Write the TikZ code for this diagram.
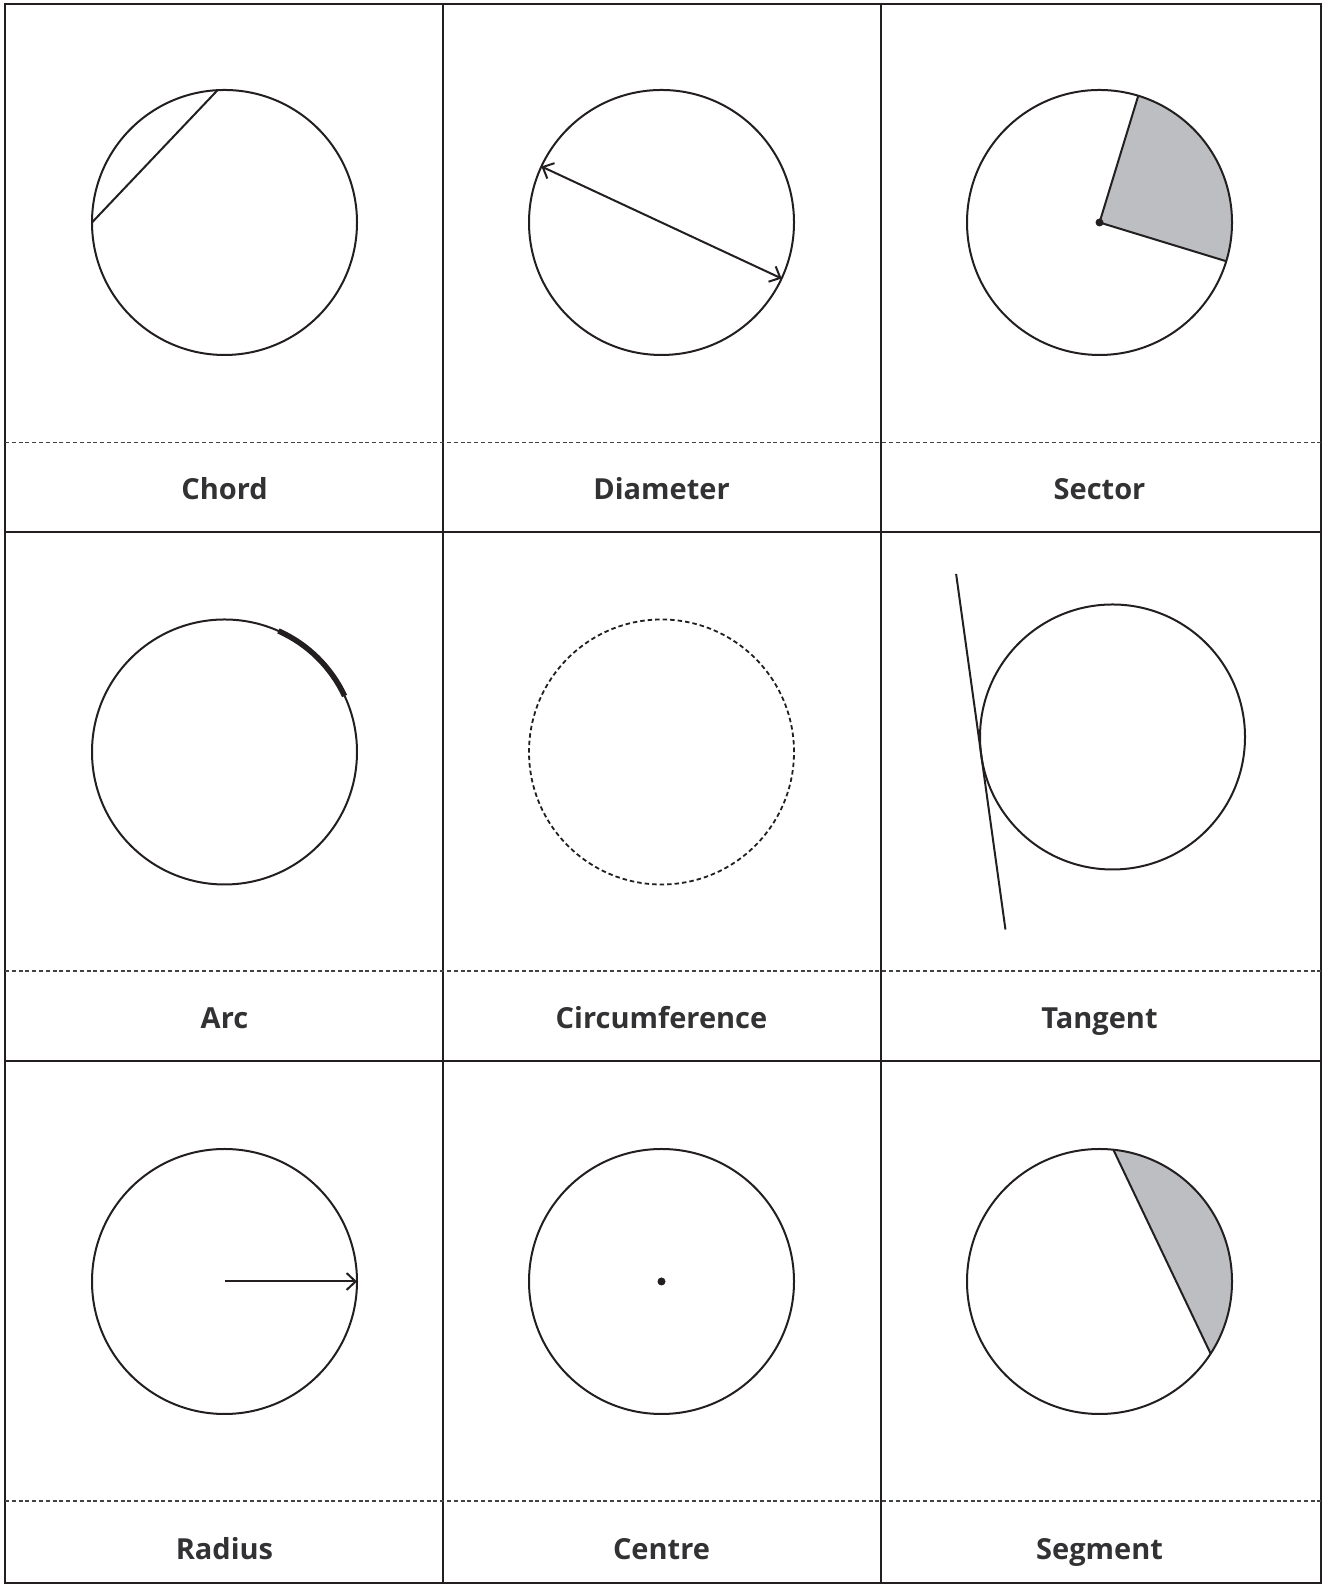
\documentclass[tikz,border=0pt]{standalone}
\usepackage{fontspec}
\setmainfont{Open Sans}
\usepackage{tikz}
\usetikzlibrary{arrows.meta,calc}
\definecolor{inkMain}{RGB}{35,31,32}
\definecolor{greyFill}{RGB}{189,190,193}
\definecolor{textDark}{RGB}{50,50,52}

\begin{document}
\begin{tikzpicture}[
		x=1pt, y=1pt,
		frame/.style={draw=inkMain, line width=2.4pt},
		sep/.style={draw=inkMain!85, line width=1.1pt, dash pattern=on 4pt off 2.8pt},
		circ/.style={draw=inkMain, line width=2pt},
		lbl/.style={font=\bfseries\fontsize{29}{34}\selectfont, text=textDark, anchor=base},
		tip/.style={-{Straight Barb[length=9pt,width=17pt]}},
		dot/.style={circle, fill=inkMain, inner sep=0pt, minimum size=8pt},
		]
		\useasboundingbox (0,0) rectangle (1329,1586);
		
		% grid
		\draw[frame] (5,3) rectangle (1321,1582);
		\draw[frame] (443,3) -- (443,1582);
		\draw[frame] (881,3) -- (881,1582);
		\draw[frame] (5,1054) -- (1321,1054);
		\draw[frame] (5,525) -- (1321,525);
		\draw[sep] (5,1143.5) -- (1321,1143.5);
		\draw[sep] (5,615) -- (1321,615);
		\draw[sep] (5,85) -- (1321,85);
		
		% centres
		\coordinate (c1) at (224.5,1363.5);
		\coordinate (c2) at (661.5,1363.5);
		\coordinate (c3) at (1099.5,1363.5);
		\coordinate (c4) at (224.5,834);
		\coordinate (c5) at (661.5,834);
		\coordinate (c6) at (1112.5,849);
		\coordinate (c7) at (224.5,304.5);
		\coordinate (c8) at (661.5,304.5);
		\coordinate (c9) at (1099.5,304.5);
		
		% chord
		\draw[circ] (c1) circle[radius=132.5pt];
		\coordinate (chA) at ($(c1)+(93:132.5pt)$);
		\coordinate (chB) at ($(c1)+(180:132.5pt)$);
		\draw[circ] (chA) -- (chB);
		
		% diameter
		\draw[circ] (c2) circle[radius=132.5pt];
		\coordinate (diA) at ($(c2)+(155:132.5pt)$);
		\coordinate (diB) at ($(c2)+(335:132.5pt)$);
		\draw[circ, {Straight Barb[length=9pt,width=17pt]}-{Straight Barb[length=9pt,width=17pt]}] (diA) -- (diB);
		
		% sector
		\coordinate (seA) at ($(c3)+(-17:132.5pt)$);
		\coordinate (seB) at ($(c3)+(73:132.5pt)$);
		\fill[greyFill] (c3) -- (seA) arc[start angle=-17, end angle=73, radius=132.5pt] -- cycle;
		\draw[circ] (c3) circle[radius=132.5pt];
		\draw[circ, line join=round] (seA) -- (c3) -- (seB);
		\node[dot] (seO) at (c3) {};
		
		% arc
		\draw[circ] (c4) circle[radius=132.5pt];
		\coordinate (arA) at ($(c4)+(25:132.5pt)$);
		\draw[draw=inkMain, line width=5.5pt] (arA) arc[start angle=25, end angle=66, radius=132.5pt];
		
		% circumference
		\draw[circ, line width=1.8pt, dash pattern=on 4.5pt off 3pt] (c5) circle[radius=132.5pt];
		
		% tangent
		\draw[circ] (c6) circle[radius=132.5pt];
		\coordinate (taP) at ($(c6)+(187.9:132.5pt)$);
		\coordinate (taA) at ($(taP)+(97.9:183pt)$);
		\coordinate (taB) at ($(taP)+(-82.1:176pt)$);
		\draw[circ] (taA) -- (taB);
		
		% radius
		\draw[circ] (c7) circle[radius=132.5pt];
		\coordinate (raA) at ($(c7)+(0:132.5pt)$);
		\draw[circ, tip] (c7) -- (raA);
		
		% centre
		\draw[circ] (c8) circle[radius=132.5pt];
		\node[dot] (ceO) at (c8) {};
		
		% segment
		\coordinate (sgA) at ($(c9)+(-33:132.5pt)$);
		\coordinate (sgB) at ($(c9)+(84:132.5pt)$);
		\fill[greyFill] (sgA) arc[start angle=-33, end angle=84, radius=132.5pt] -- cycle;
		\draw[circ] (c9) circle[radius=132.5pt];
		\draw[circ] (sgA) -- (sgB);
		
		% labels
		\node[lbl] (lChord)  at (224.5,1086) {Chord};
		\node[lbl] (lDiam)   at (661.5,1086) {Diameter};
		\node[lbl] (lSector) at (1099.5,1086) {Sector};
		\node[lbl] (lArc)    at (224.5,557.5) {Arc};
		\node[lbl] (lCirc)   at (661.5,557.5) {Circumference};
		\node[lbl] (lTang)   at (1099.5,557.5) {Tangent};
		\node[lbl] (lRad)    at (224.5,27) {Radius};
		\node[lbl] (lCentre) at (661.5,27) {Centre};
		\node[lbl] (lSeg)    at (1099.5,27) {Segment};
\end{tikzpicture}
\end{document}
